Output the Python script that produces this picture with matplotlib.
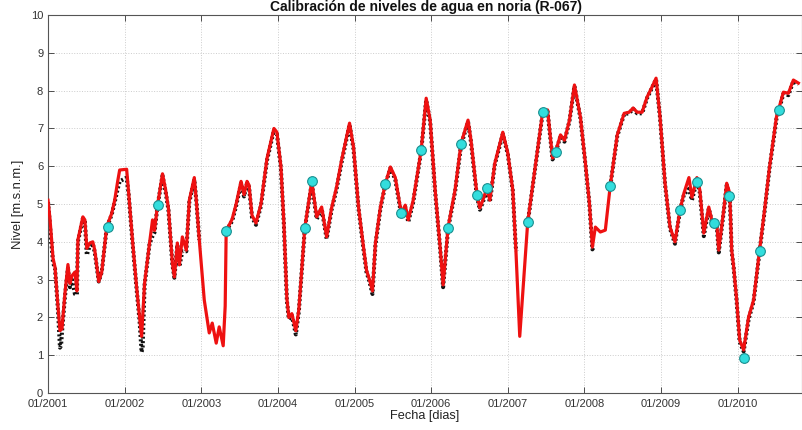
import numpy as np
import matplotlib
matplotlib.use("Agg")
import matplotlib.pyplot as plt

plt.rcParams['font.family'] = ['Liberation Sans', 'DejaVu Sans']

# ---- data (decimal years / m.s.n.m.) ----
# simulated level (red line)
sim_t = [2001.000, 2001.026, 2001.065, 2001.091, 2001.130, 2001.156, 2001.182, 2001.221, 2001.260, 2001.286,
         2001.312, 2001.351, 2001.377, 2001.390, 2001.455, 2001.481, 2001.506, 2001.545, 2001.584, 2001.610,
         2001.662, 2001.701, 2001.766, 2001.831, 2001.870, 2001.909, 2001.935, 2002.026, 2002.052, 2002.104,
         2002.156, 2002.195, 2002.221, 2002.260, 2002.325, 2002.364, 2002.390, 2002.429, 2002.494, 2002.532,
         2002.571, 2002.623, 2002.649, 2002.688, 2002.714, 2002.753, 2002.805, 2002.844, 2002.909, 2002.935,
         2002.974, 2003.039, 2003.104, 2003.143, 2003.195, 2003.234, 2003.286, 2003.312, 2003.325, 2003.403,
         2003.455, 2003.519, 2003.558, 2003.597, 2003.623, 2003.662, 2003.714, 2003.779, 2003.857, 2003.948,
         2003.987, 2004.039, 2004.078, 2004.117, 2004.143, 2004.182, 2004.234, 2004.273, 2004.351, 2004.442,
         2004.506, 2004.571, 2004.636, 2004.701, 2004.766, 2004.831, 2004.935, 2004.987, 2005.052, 2005.117,
         2005.156, 2005.195, 2005.234, 2005.273, 2005.338, 2005.403, 2005.468, 2005.532, 2005.610, 2005.662,
         2005.701, 2005.766, 2005.870, 2005.935, 2005.987, 2006.052, 2006.117, 2006.156, 2006.221, 2006.312,
         2006.390, 2006.481, 2006.519, 2006.597, 2006.636, 2006.675, 2006.727, 2006.766, 2006.831, 2006.935,
         2007.000, 2007.065, 2007.104, 2007.156, 2007.208, 2007.260, 2007.364, 2007.455, 2007.519, 2007.584,
         2007.623, 2007.688, 2007.740, 2007.805, 2007.870, 2007.948, 2008.013, 2008.065, 2008.104, 2008.143,
         2008.208, 2008.273, 2008.338, 2008.429, 2008.519, 2008.584, 2008.636, 2008.688, 2008.753, 2008.818,
         2008.883, 2008.935, 2008.987, 2009.052, 2009.117, 2009.182, 2009.247, 2009.299, 2009.364, 2009.403,
         2009.468, 2009.506, 2009.558, 2009.623, 2009.662, 2009.727, 2009.753, 2009.818, 2009.857, 2009.896,
         2009.922, 2009.948, 2009.987, 2010.026, 2010.078, 2010.143, 2010.208, 2010.286, 2010.351, 2010.416,
         2010.506, 2010.597, 2010.662, 2010.727, 2010.792]
sim_v = [5.10, 4.60, 3.57, 3.33, 2.28, 1.65, 1.70, 2.64, 3.40, 2.90,
         3.10, 3.20, 2.70, 4.05, 4.66, 4.58, 3.83, 3.97, 4.00, 3.78,
         2.95, 3.20, 4.40, 4.75, 5.10, 5.60, 5.90, 5.92, 5.30, 4.00,
         2.80, 2.00, 1.50, 2.90, 3.97, 4.58, 4.30, 4.97, 5.80, 5.40,
         4.90, 3.43, 3.07, 3.97, 3.39, 4.13, 3.78, 5.10, 5.70, 5.10,
         4.05, 2.46, 1.59, 1.85, 1.32, 1.75, 1.25, 2.30, 4.29, 4.60,
         5.00, 5.60, 5.25, 5.60, 5.50, 4.70, 4.50, 5.00, 6.20, 7.00,
         6.90, 6.00, 4.50, 2.50, 2.00, 2.10, 1.65, 2.20, 4.37, 5.60,
         4.66, 4.92, 4.13, 4.90, 5.45, 6.16, 7.14, 6.50, 4.92, 3.86,
         3.25, 3.00, 2.70, 3.97, 4.92, 5.55, 5.98, 5.70, 4.76, 4.97,
         4.58, 5.10, 6.43, 7.80, 7.22, 5.37, 3.86, 2.86, 4.39, 5.37,
         6.60, 7.22, 6.70, 5.26, 4.90, 5.10, 5.42, 5.10, 6.08, 6.90,
         6.35, 5.37, 3.86, 1.50, 3.00, 4.52, 6.08, 7.43, 7.49, 6.22,
         6.38, 6.83, 6.69, 7.22, 8.15, 7.30, 6.08, 5.03, 3.86, 4.39,
         4.26, 4.31, 5.50, 6.83, 7.40, 7.43, 7.54, 7.43, 7.43, 7.83,
         8.10, 8.33, 7.30, 5.55, 4.39, 4.00, 4.84, 5.29, 5.70, 5.18,
         5.70, 5.37, 4.23, 4.92, 4.58, 4.50, 3.78, 4.84, 5.55, 5.29,
         3.78, 3.33, 2.46, 1.40, 1.14, 2.01, 2.46, 3.78, 4.84, 5.98,
         7.30, 7.96, 7.93, 8.28, 8.20]

# observed daily level (black dots), NaN = no record
obs_t = [2001.000, 2001.065, 2001.091, 2001.130, 2001.156, 2001.170, 2001.182, 2001.221, 2001.260, 2001.286,
         2001.312, 2001.351, 2001.377, 2001.390, 2001.455, 2001.481, 2001.506, 2001.545, 2001.584, 2001.610,
         2001.662, 2001.701, 2001.766, 2001.831, 2001.870, 2001.909, 2001.935, 2002.026, 2002.052, 2002.104,
         2002.156, 2002.195, 2002.221, 2002.235, 2002.260, 2002.325, 2002.364, 2002.390, 2002.429, 2002.494,
         2002.532, 2002.571, 2002.623, 2002.649, 2002.688, 2002.714, 2002.753, 2002.805, 2002.844, 2002.909,
         2002.935, 2002.974, 2003.000,
         2003.325, 2003.403, 2003.455, 2003.519, 2003.558, 2003.597, 2003.623, 2003.662, 2003.714, 2003.779,
         2003.857, 2003.948, 2003.987, 2004.039, 2004.078, 2004.117, 2004.143, 2004.182, 2004.234, 2004.273,
         2004.351, 2004.442, 2004.506, 2004.571, 2004.636, 2004.701, 2004.766, 2004.831, 2004.935, 2004.987,
         2005.052, 2005.117, 2005.156, 2005.195, 2005.234, 2005.273, 2005.338, 2005.403, 2005.468, 2005.532,
         2005.610, 2005.662, 2005.701, 2005.766, 2005.870, 2005.935, 2005.987, 2006.052, 2006.117, 2006.156,
         2006.221, 2006.312, 2006.390, 2006.481, 2006.519, 2006.597, 2006.636, 2006.675, 2006.727, 2006.766,
         2006.831, 2006.935, 2007.000, 2007.065, 2007.104, 2007.115, 2007.130,
         2007.260, 2007.364, 2007.455, 2007.519, 2007.584, 2007.623, 2007.688, 2007.740, 2007.805, 2007.870,
         2007.948, 2008.013, 2008.065, 2008.104, 2008.115, 2008.130,
         2008.338, 2008.429, 2008.519, 2008.584, 2008.636, 2008.688, 2008.753, 2008.818, 2008.883, 2008.935,
         2008.987, 2009.052, 2009.117, 2009.182, 2009.247, 2009.299, 2009.364, 2009.403, 2009.468, 2009.506,
         2009.558, 2009.623, 2009.662, 2009.727, 2009.753, 2009.818, 2009.857, 2009.896, 2009.922, 2009.948,
         2009.987, 2010.026, 2010.078, 2010.143, 2010.208, 2010.286, 2010.351, 2010.416, 2010.506, 2010.597,
         2010.662, 2010.727, 2010.792]
obs_v = [5.05, 3.45, 3.30, 2.20, 1.20, 1.25, 1.60, 2.55, 3.30, 2.80,
         3.00, 2.62, 2.60, 4.00, 4.62, 4.55, 3.65, 3.90, 3.95, 3.72,
         2.95, 3.20, 4.38, 4.72, 5.05, 5.40, 5.60, 5.70, 5.25, 3.95,
         2.75, 1.90, 1.08, 1.20, 2.85, 3.95, 4.15, 4.25, 4.95, 5.75,
         5.35, 4.85, 3.40, 3.05, 3.92, 3.35, 3.75, 3.75, 5.05, 5.65,
         5.10, 4.05, np.nan,
         4.29, 4.55, 4.95, 5.55, 5.20, 5.55, 5.45, 4.65, 4.45, 4.95,
         6.15, 6.95, 6.85, 5.95, 4.45, 2.45, 1.95, 2.05, 1.55, 2.15,
         4.35, 5.55, 4.60, 4.88, 4.08, 4.85, 5.40, 6.10, 7.10, 6.45,
         4.88, 3.80, 3.20, 2.95, 2.62, 3.92, 4.88, 5.52, 5.95, 5.65,
         4.70, 4.92, 4.52, 5.05, 6.40, 7.75, 7.18, 5.32, 3.82, 2.80,
         4.35, 5.32, 6.55, 7.18, 6.65, 5.20, 4.85, 5.05, 5.38, 5.05,
         6.05, 6.85, 6.32, 5.35, 3.86, 3.75, np.nan,
         4.50, 6.05, 7.40, 7.45, 6.18, 6.35, 6.80, 6.65, 7.20, 8.12,
         7.27, 6.05, 5.00, 3.80, 3.85, np.nan,
         5.48, 6.80, 7.38, 7.40, 7.52, 7.40, 7.40, 7.80, 8.08, 8.30,
         7.28, 5.52, 4.35, 3.95, 4.82, 5.25, 5.40, 5.10, 5.62, 5.30,
         4.15, 4.88, 4.55, 4.45, 3.72, 4.80, 5.50, 5.25, 3.75, 3.30,
         2.42, 1.35, 1.10, 1.95, 2.42, 3.75, 4.80, 5.95, 7.25, 7.92,
         7.88, 8.25, 8.17]

# discrete field measurements (cyan circles)
pts_t = [2001.779, 2002.429, 2003.325, 2004.351, 2004.442, 2005.403, 2005.610, 2005.870, 2006.221,
         2006.390, 2006.597, 2006.727, 2007.260, 2007.455, 2007.623, 2008.338, 2009.247, 2009.468,
         2009.688, 2009.883, 2010.078, 2010.286, 2010.545]
pts_v = [4.38, 4.98, 4.29, 4.37, 5.60, 5.53, 4.75, 6.43, 4.37,
         6.58, 5.25, 5.42, 4.52, 7.43, 6.37, 5.49, 4.84, 5.57,
         4.51, 5.22, 0.93, 3.77, 7.49]

x_ticks = [2001, 2002, 2003, 2004, 2005, 2006, 2007, 2008, 2009, 2010]
x_labels = ['01/2001', '01/2002', '01/2003', '01/2004', '01/2005',
            '01/2006', '01/2007', '01/2008', '01/2009', '01/2010']
y_ticks = list(range(0, 11))

# ---- figure ----
fig = plt.figure(figsize=(8.03, 4.30), dpi=100)
ax = fig.add_axes([0.0598, 0.086, 0.939, 0.879])

ax.plot(obs_t, obs_v, color='#111111', lw=2.9, linestyle=(0, (0.5, 0.6)), zorder=2)
ax.plot(sim_t, sim_v, color='#ee1111', lw=2.3, zorder=3, solid_joinstyle='round')
ax.plot(pts_t, pts_v, linestyle='none', marker='o', markersize=7,
        markerfacecolor='#33dddd', markeredgecolor='#1a8f8f', markeredgewidth=0.8, zorder=4)

ax.set_xlim(2001.0, 2010.84)
ax.set_ylim(0, 10)
ax.set_xticks(x_ticks)
ax.set_xticklabels(x_labels)
ax.set_yticks(y_ticks)
ax.tick_params(direction='in', length=4, labelsize=8, colors='#333333', width=0.6,
               top=True, right=True)
ax.tick_params(axis='x', pad=4)
ax.grid(True, color='#cccccc', linestyle=':', linewidth=0.7)
for s in ax.spines.values():
    s.set_color('#555555')
    s.set_linewidth(0.8)

ax.set_xlabel('Fecha [dias]', fontsize=9.2, color='#222222', labelpad=1)
ax.set_ylabel('Nivel [m.s.n.m.]', fontsize=9.4, color='#222222', labelpad=5)
fig.text(0.53, 0.999, 'Calibración de niveles de agua en noria (R-067)',
         ha='center', va='top', fontsize=10, fontweight='bold', color='#111111')

fig.savefig('out.png', dpi=100)
